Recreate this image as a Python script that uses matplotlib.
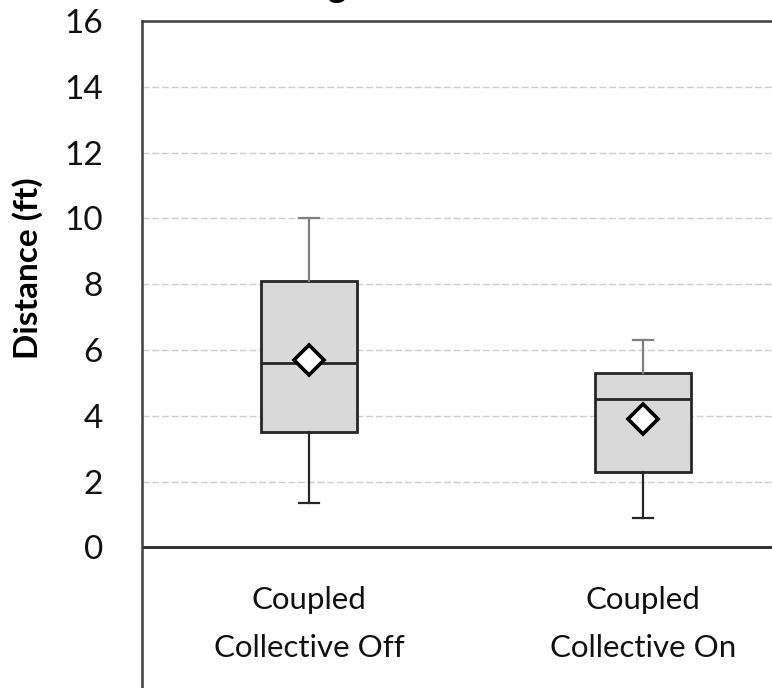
import matplotlib
matplotlib.use("Agg")
import matplotlib.pyplot as plt

plt.rcParams['font.family'] = ['Lato', 'DejaVu Sans']

# Box-and-whisker statistics per condition (ft)
categories = ["Coupled\nCollective Off", "Coupled\nCollective On"]
whisker_low = [1.35, 0.9]
q1 = [3.5, 2.3]
median = [5.6, 4.5]
q3 = [8.1, 5.3]
whisker_high = [10.0, 6.3]
mean = [5.7, 3.9]
y_ticks = [0, 2, 4, 6, 8, 10, 12, 14, 16]

W, H = 772, 688
fig = plt.figure(figsize=(W / 100, H / 100), dpi=100)

px_per_unit = 32.9
ymin, ymax = -5.0, 16.0
ax_left, ax_top, ax_w = 142, 21, 668
ax_h = (ymax - ymin) * px_per_unit
ax = fig.add_axes([ax_left / W, (H - ax_top - ax_h) / H, ax_w / W, ax_h / H])

positions = [0.5, 1.5]
stats = []
for i in range(len(categories)):
    stats.append(dict(whislo=whisker_low[i], q1=q1[i], med=median[i], q3=q3[i],
                      whishi=whisker_high[i], mean=mean[i], fliers=[]))

bp = ax.bxp(stats, positions=positions, widths=0.29, patch_artist=True,
            showmeans=True, showfliers=False,
            boxprops=dict(facecolor="#d9d9d9", edgecolor="#262626", linewidth=2),
            medianprops=dict(color="#262626", linewidth=2),
            capprops=dict(color="#262626", linewidth=1.6),
            whiskerprops=dict(color="#262626", linewidth=1.6),
            meanprops=dict(marker="D", markersize=15, markerfacecolor="white",
                           markeredgecolor="black", markeredgewidth=2.6),
            capwidths=0.06, zorder=3)

# Upper whiskers and caps are drawn in a lighter gray
for i in range(len(categories)):
    bp['whiskers'][2 * i + 1].set_color("#7f7f7f")
    bp['caps'][2 * i + 1].set_color("#7f7f7f")

ax.set_xlim(0, 2)
ax.set_ylim(ymin, ymax)
ax.set_xticks([])
ax.set_yticks(y_ticks)
ax.set_yticklabels([str(t) for t in y_ticks], fontsize=24, color="#111111")
ax.tick_params(axis='y', length=0, pad=28)

for t in y_ticks[1:-1]:
    ax.axhline(t, color="#cccccc", linewidth=1.0, linestyle=(0, (5, 2)), zorder=1)
ax.axhline(0, color="#262626", linewidth=2, zorder=2)

for s in ['left', 'top']:
    ax.spines[s].set_color("#404040")
    ax.spines[s].set_linewidth(1.8)
ax.spines['right'].set_visible(False)
ax.spines['bottom'].set_visible(False)

# Two-line category labels below the zero line
for x, lab in zip(positions, categories):
    line1, line2 = lab.split("\n")
    ax.text(x, -1.61, line1, ha='center', va='center', fontsize=22.5, color="#111111")
    ax.text(x, -3.07, line2, ha='center', va='center', fontsize=22.5, color="#111111")

fig.text(28 / W, 1 - 268 / H, "Distance (ft)", rotation=90, ha='center',
         va='center', fontsize=24, fontweight='bold', color="black")

# Chart title sits mostly above the visible area
fig.text(347 / W, 1 + 3 / H, "Landing", ha='right', va='baseline',
         fontsize=26, fontweight='bold', color="black")

fig.savefig("out.png", dpi=100)
